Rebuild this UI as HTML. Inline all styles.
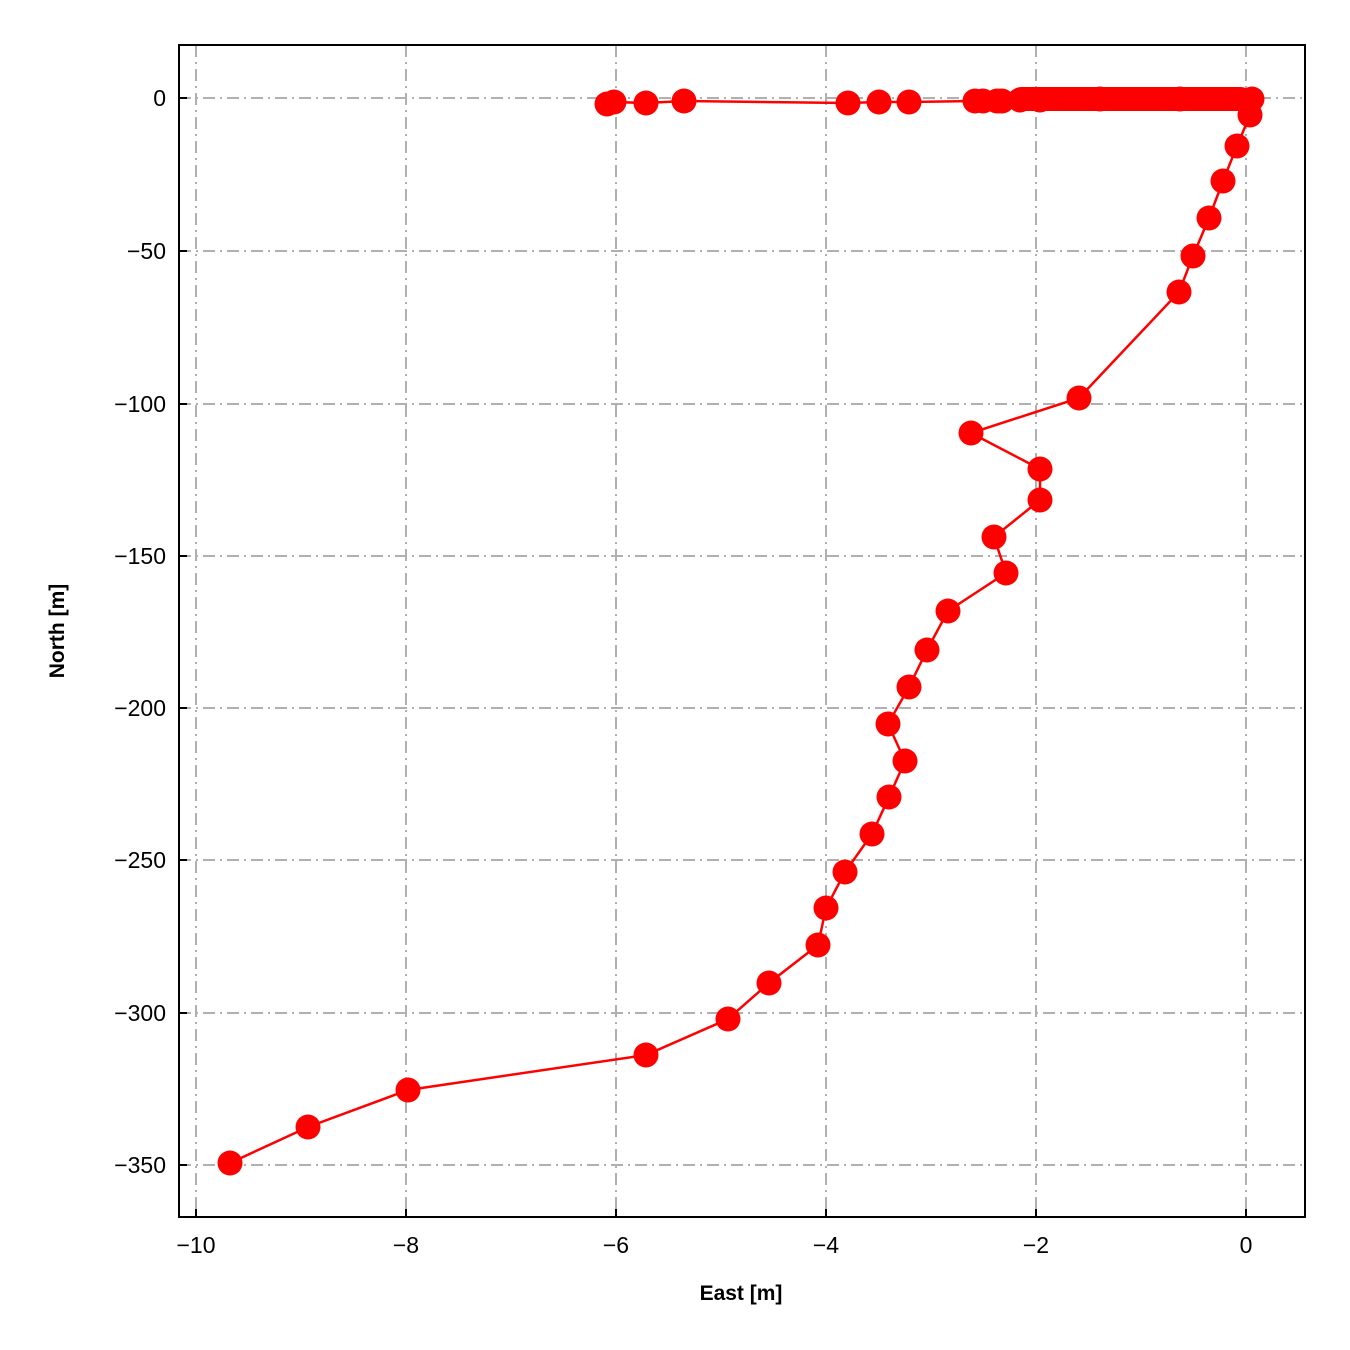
<!DOCTYPE html><html><head><style>body{margin:0;background:#fff}svg{display:block}text{font-family:"Liberation Sans",sans-serif;fill:#000}</style></head><body>
<svg width="1350" height="1350" xmlns="http://www.w3.org/2000/svg">
<g stroke="#b0b0b0" stroke-width="2" stroke-dasharray="12,5,2,5">
<line x1="196" y1="45" x2="196" y2="1217"/><line x1="406" y1="45" x2="406" y2="1217"/><line x1="616" y1="45" x2="616" y2="1217"/><line x1="826" y1="45" x2="826" y2="1217"/><line x1="1036" y1="45" x2="1036" y2="1217"/><line x1="1246" y1="45" x2="1246" y2="1217"/>
<line x1="179" y1="98" x2="1305" y2="98"/><line x1="179" y1="251" x2="1305" y2="251"/><line x1="179" y1="404" x2="1305" y2="404"/><line x1="179" y1="556" x2="1305" y2="556"/><line x1="179" y1="708" x2="1305" y2="708"/><line x1="179" y1="860" x2="1305" y2="860"/><line x1="179" y1="1013" x2="1305" y2="1013"/><line x1="179" y1="1165" x2="1305" y2="1165"/>
</g>
<g id="d">
<polyline fill="none" stroke="#f00" stroke-width="2.5" points="607,104 614,102 646,103 684,101 848,103 879,102 909,102 975,101 983,101 997,101 1000,101 1020,100 1250,99 1252,99 1250,115 1237,146 1223,181 1209,218 1193,256 1179,292 1079,398 971,433 1040,469 1040,500 994,537 1006,573 948,611 927,650 909,687 888,724 905,761 889,797 872,834 845,872 826,908 818,945 769,983 728,1019 646,1055 408,1090 308,1127 230,1163"/>
<g fill="#f00">
<circle cx="607" cy="104" r="12.5"/><circle cx="614" cy="102" r="12.5"/><circle cx="646" cy="103" r="12.5"/><circle cx="684" cy="101" r="12.5"/><circle cx="848" cy="103" r="12.5"/><circle cx="879" cy="102" r="12.5"/><circle cx="909" cy="102" r="12.5"/><circle cx="975" cy="101" r="12.5"/><circle cx="983" cy="101" r="12.5"/><circle cx="997" cy="101" r="12.5"/><circle cx="1002" cy="101" r="12.5"/>
<rect x="1010" y="87" width="242" height="24" rx="11"/>
<circle cx="1020" cy="100" r="12.5"/><circle cx="1040" cy="100" r="12.5"/><circle cx="1100" cy="99" r="12.5"/><circle cx="1180" cy="99" r="12.5"/><circle cx="1252" cy="99" r="12.5"/>
<circle cx="1250" cy="115" r="12.5"/><circle cx="1237" cy="146" r="12.5"/><circle cx="1223" cy="181" r="12.5"/><circle cx="1209" cy="218" r="12.5"/><circle cx="1193" cy="256" r="12.5"/><circle cx="1179" cy="292" r="12.5"/><circle cx="1079" cy="398" r="12.5"/><circle cx="971" cy="433" r="12.5"/><circle cx="1040" cy="469" r="12.5"/><circle cx="1040" cy="500" r="12.5"/><circle cx="994" cy="537" r="12.5"/><circle cx="1006" cy="573" r="12.5"/><circle cx="948" cy="611" r="12.5"/><circle cx="927" cy="650" r="12.5"/><circle cx="909" cy="687" r="12.5"/><circle cx="888" cy="724" r="12.5"/><circle cx="905" cy="761" r="12.5"/><circle cx="889" cy="797" r="12.5"/><circle cx="872" cy="834" r="12.5"/><circle cx="845" cy="872" r="12.5"/><circle cx="826" cy="908" r="12.5"/><circle cx="818" cy="945" r="12.5"/><circle cx="769" cy="983" r="12.5"/><circle cx="728" cy="1019" r="12.5"/><circle cx="646" cy="1055" r="12.5"/><circle cx="408" cy="1090" r="12.5"/><circle cx="308" cy="1127" r="12.5"/><circle cx="230" cy="1163" r="12.5"/>
</g></g>
<rect x="179" y="45" width="1126" height="1172" fill="none" stroke="#000" stroke-width="2"/>
<g stroke="#000" stroke-width="2">
<line x1="196" y1="1217" x2="196" y2="1209"/><line x1="406" y1="1217" x2="406" y2="1209"/><line x1="616" y1="1217" x2="616" y2="1209"/><line x1="826" y1="1217" x2="826" y2="1209"/><line x1="1036" y1="1217" x2="1036" y2="1209"/><line x1="1246" y1="1217" x2="1246" y2="1209"/>
<line x1="179" y1="98" x2="187" y2="98"/><line x1="179" y1="251" x2="187" y2="251"/><line x1="179" y1="404" x2="187" y2="404"/><line x1="179" y1="556" x2="187" y2="556"/><line x1="179" y1="708" x2="187" y2="708"/><line x1="179" y1="860" x2="187" y2="860"/><line x1="179" y1="1013" x2="187" y2="1013"/><line x1="179" y1="1165" x2="187" y2="1165"/>
</g>
<g font-size="23" text-anchor="middle">
<text x="196" y="1253">−10</text><text x="406" y="1253">−8</text><text x="616" y="1253">−6</text><text x="826" y="1253">−4</text><text x="1036" y="1253">−2</text><text x="1246" y="1253">0</text>
</g>
<g font-size="23" text-anchor="end">
<text x="166" y="106">0</text><text x="166" y="259">−50</text><text x="166" y="412">−100</text><text x="166" y="564">−150</text><text x="166" y="716">−200</text><text x="166" y="868">−250</text><text x="166" y="1021">−300</text><text x="166" y="1173">−350</text>
</g>
<text x="741" y="1300" font-size="21" font-weight="bold" text-anchor="middle">East [m]</text>
<text transform="translate(64,631) rotate(-90)" font-size="21" font-weight="bold" text-anchor="middle">North [m]</text>
</svg></body></html>
